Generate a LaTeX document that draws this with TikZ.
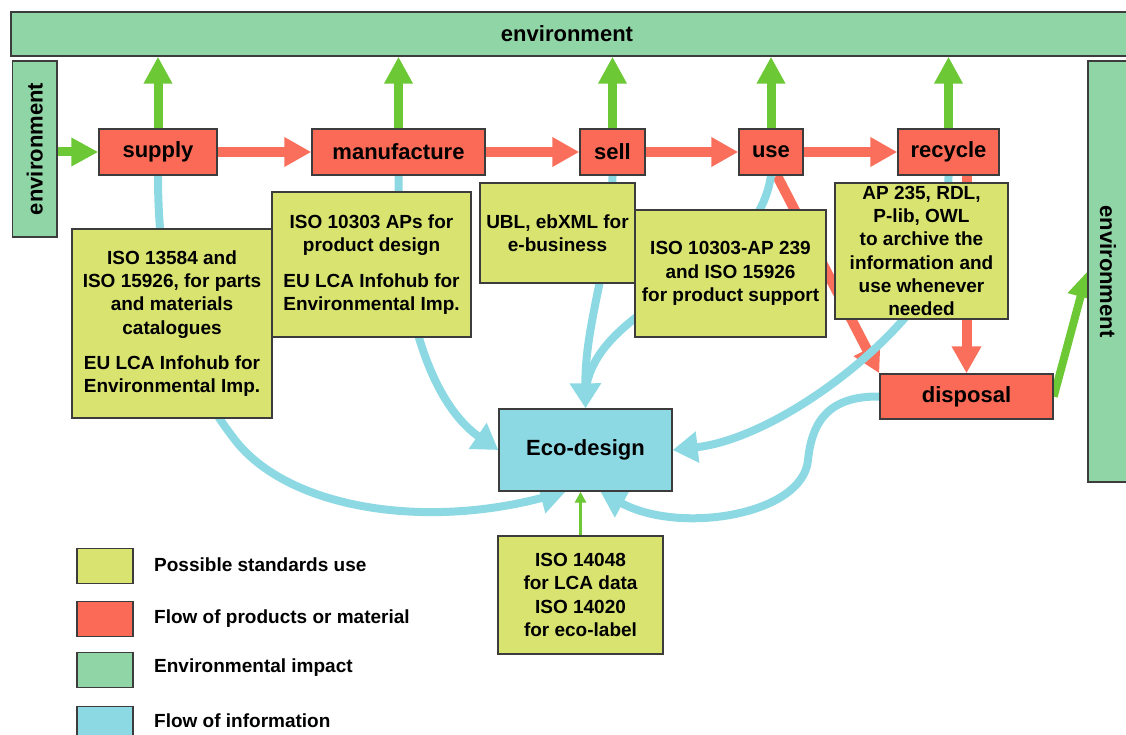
\documentclass[tikz,border=0pt]{standalone}
\usepackage{fontspec}
\setmainfont{Liberation Sans}
\usetikzlibrary{arrows.meta}

\definecolor{envgreen}{RGB}{144,213,166}
\definecolor{procred}{RGB}{250,106,86}
\definecolor{stdyellow}{RGB}{217,228,112}
\definecolor{infocyan}{RGB}{141,217,227}
\definecolor{impactgreen}{RGB}{108,200,52}
\definecolor{flowred}{RGB}{250,110,92}
\definecolor{edgegray}{RGB}{60,60,60}

\pgfdeclarelayer{background}
\pgfsetlayers{background,main}

\tikzset{
  box/.style={draw=edgegray, line width=1.4pt, inner sep=0pt},
  envbox/.style={box, fill=envgreen},
  envlabel/.style={inner sep=0pt, font=\fontsize{22}{26}\selectfont\bfseries},
  procbox/.style={box, fill=procred, minimum height=46pt,
    font=\fontsize{22}{26}\selectfont\bfseries},
  stdbox/.style={box, fill=stdyellow, align=center,
    font=\fontsize{19}{23.3}\selectfont\bfseries},
  ecobox/.style={box, fill=infocyan, font=\fontsize{22}{26}\selectfont\bfseries},
  keybox/.style={box, minimum width=56pt, minimum height=35pt},
  keytext/.style={anchor=west, inner sep=0pt, font=\fontsize{19}{23}\selectfont\bfseries},
  flow/.style={draw=flowred, line width=10pt, -{Triangle[length=27pt,width=28pt]}},
  impact/.style={draw=impactgreen, line width=9pt, -{Triangle[length=27pt,width=27pt]}},
  info/.style={draw=infocyan, line width=8pt, -{Triangle[length=25pt,width=30pt]}},
  infoline/.style={draw=infocyan, line width=8pt},
}

\begin{document}
\begin{tikzpicture}[x=1pt, y=-1pt]
\useasboundingbox (0,0) rectangle (1126,735);

% environment frame
\node[envbox, minimum width=1129pt, minimum height=44pt] (envT) at (575.5,34) {};
\node[envlabel] (envTlabel) at (567,34) {environment};
\node[envbox, minimum width=44.5pt, minimum height=176pt] (envL) at (34.75,149) {};
\node[envlabel, rotate=90] (envLlabel) at (envL) {environment};
\node[envbox, minimum width=52pt, minimum height=421pt] (envR) at (1114,271.5) {};
\node[envlabel, rotate=-90] (envRlabel) at (1108,271.5) {environment};

% possible standards
\node[stdbox, minimum width=200pt, minimum height=189pt] (stdA) at (172,323.5)
  {ISO 13584 and\\ISO 15926, for parts\\and materials\\catalogues\\[12pt]EU LCA Infohub for\\Environmental Imp.};
\node[stdbox, minimum width=199pt, minimum height=145pt] (stdB) at (371.5,264.5)
  {ISO 10303 APs for\\product design\\[12pt]EU LCA Infohub for\\Environmental Imp.};
\node[stdbox, minimum width=155pt, minimum height=100pt] (stdC) at (557.5,233)
  {UBL, ebXML for\\e-business};
\node[stdbox, minimum width=191pt, minimum height=127pt] (stdD) at (730.5,273.5)
  {ISO 10303-AP 239\\and ISO 15926\\for product support};
\node[stdbox, minimum width=173pt, minimum height=136pt] (stdE) at (921.5,251)
  {AP 235, RDL,\\P-lib, OWL\\to archive the\\information and\\use whenever\\needed};
\node[stdbox, minimum width=165pt, minimum height=118pt] (stdF) at (580.5,595)
  {ISO 14048\\for LCA data\\ISO 14020\\for eco-label};

% life-cycle stages
\node[procbox, minimum width=118pt] (supply) at (158,152) {supply};
\node[procbox, minimum width=173pt] (manufacture) at (398.5,152) {manufacture};
\node[procbox, minimum width=65pt] (sell) at (612.5,152) {sell};
\node[procbox, minimum width=64pt] (use) at (771,152) {use};
\node[procbox, minimum width=101pt] (recycle) at (948.5,152) {recycle};
\node[procbox, minimum width=173pt, minimum height=45pt] (disposal) at (966.5,396.5) {disposal};
\node[ecobox, minimum width=173pt, minimum height=82pt] (eco) at (585.5,450) {Eco-design};
\coordinate (join) at ([yshift=18pt]eco.north);

% legend
\node[keybox, fill=stdyellow] (keyStd) at (105,566) {};
\node[keytext] (keyStdText) at (154,565) {Possible standards use};
\node[keybox, fill=procred] (keyFlow) at (105,619) {};
\node[keytext] (keyFlowText) at (154,619) {Flow of products or material};
\node[keybox, fill=envgreen] (keyEnv) at (105,670) {};
\node[keytext] (keyEnvText) at (154,668) {Environmental impact};
\node[keybox, fill=infocyan] (keyInfo) at (105,724) {};
\node[keytext] (keyInfoText) at (154,721) {Flow of information};

\begin{pgfonlayer}{background}
  % material flow towards disposal
  \draw[flow] ([xshift=6pt]use.south) -- (disposal.north west);
  \draw[flow] (recycle.south -| disposal.north) -- (disposal.north);

  % information flow into eco-design
  \draw[info] (supply.south) .. controls (158,320) and (200,395) .. (235,440)
    .. controls (287,507) and (420,530) .. ([xshift=-20pt]eco.south);
  \draw[info] (manufacture.south) .. controls (399,330) and (440,410) .. (eco.west);
  \draw[infoline] (use.south) .. controls (755,280) and (598,300) .. (join);
  \draw[info] (sell.south) .. controls (612,260) and (585,320) .. (eco.north);
  \draw[info] (recycle.south) .. controls (948,250) and (930,290) .. (903,320)
    .. controls (850,380) and (760,440) .. (eco.east);
  \draw[info] (disposal.west) .. controls (830,396) and (812,420) .. (808,460)
    .. controls (803,515) and (680,535) .. ([xshift=15pt]eco.south);

  % material flow along the chain
  \draw[flow] (supply) -- (manufacture);
  \draw[flow] (manufacture) -- (sell);
  \draw[flow] (sell) -- (use);
  \draw[flow] (use) -- (recycle);

  % environmental impact
  \draw[impact] (envL.east |- supply.west) -- (supply.west);
  \foreach \stage in {supply,manufacture,sell,use,recycle}
    \draw[impact] (\stage.north) -- (\stage.north |- envT.south);
  \draw[impact, line width=8pt, -{Triangle[length=26pt,width=25pt]}] (disposal.east) -- (envR.west);
\end{pgfonlayer}

\draw[impact, line width=3pt, -{Triangle[length=11pt,width=11pt]}] (stdF.north) -- (stdF.north |- eco.south);
\end{tikzpicture}
\end{document}
